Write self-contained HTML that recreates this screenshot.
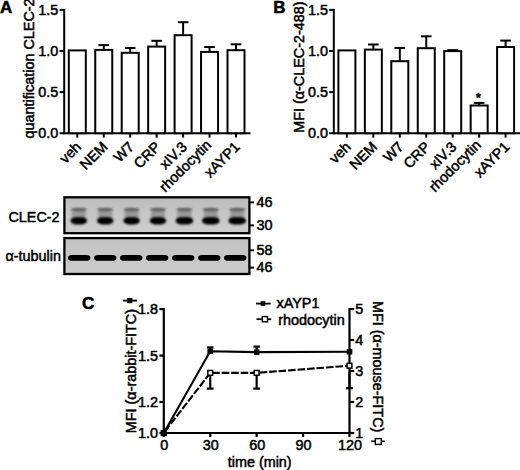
<!DOCTYPE html>
<html><head><meta charset="utf-8"><style>
html,body{margin:0;padding:0;background:#fff;width:520px;height:470px;overflow:hidden}
svg{display:block}
text{font-family:"Liberation Sans", sans-serif;fill:#000;stroke:#000;stroke-width:0.5px}
.t{font-size:14.4px}
.xl{font-size:14.4px}
.pl{font-size:17px;font-weight:bold}
</style></head><body>
<svg width="520" height="470" viewBox="0 0 520 470">
<rect width="520" height="470" fill="#fff"/>
<g stroke="#000" stroke-width="2" fill="none">
<line x1="64.2" y1="8.9" x2="64.2" y2="134.2" />
<line x1="59.6" y1="9.9" x2="64.2" y2="9.9" />
<text x="58.3" y="14.9" text-anchor="end" class="t">1.5</text>
<line x1="59.6" y1="51" x2="64.2" y2="51" />
<text x="58.3" y="56" text-anchor="end" class="t">1.0</text>
<line x1="59.6" y1="92.1" x2="64.2" y2="92.1" />
<text x="58.3" y="97.1" text-anchor="end" class="t">0.5</text>
<line x1="59.6" y1="133.2" x2="64.2" y2="133.2" />
<text x="58.3" y="138.2" text-anchor="end" class="t">0.0</text>
<line x1="63.2" y1="133.2" x2="250.5" y2="133.2" />
<line x1="77.3" y1="133.2" x2="77.3" y2="137.6" />
<rect x="68.8" y="50.4" width="17" height="82.8" fill="#fff" />
<text x="82.0" y="147.8" text-anchor="end" class="xl" transform="rotate(-45 82.0 147.8)">veh</text>
<line x1="103.75" y1="133.2" x2="103.75" y2="137.6" />
<line x1="103.75" y1="45.1" x2="103.75" y2="49.9" />
<line x1="98.45" y1="45.1" x2="109.05" y2="45.1" />
<rect x="95.25" y="49.9" width="17" height="83.3" fill="#fff" />
<text x="108.45" y="147.8" text-anchor="end" class="xl" transform="rotate(-45 108.45 147.8)">NEM</text>
<line x1="130.2" y1="133.2" x2="130.2" y2="137.6" />
<line x1="130.2" y1="48.0" x2="130.2" y2="52.8" />
<line x1="124.9" y1="48.0" x2="135.5" y2="48.0" />
<rect x="121.7" y="52.8" width="17" height="80.4" fill="#fff" />
<text x="134.9" y="147.8" text-anchor="end" class="xl" transform="rotate(-45 134.9 147.8)">W7</text>
<line x1="156.65" y1="133.2" x2="156.65" y2="137.6" />
<line x1="156.65" y1="40.8" x2="156.65" y2="46.6" />
<line x1="151.35" y1="40.8" x2="161.95" y2="40.8" />
<rect x="148.15" y="46.6" width="17" height="86.6" fill="#fff" />
<text x="161.35" y="147.8" text-anchor="end" class="xl" transform="rotate(-45 161.35 147.8)">CRP</text>
<line x1="183.1" y1="133.2" x2="183.1" y2="137.6" />
<line x1="183.1" y1="22.2" x2="183.1" y2="35.2" />
<line x1="177.8" y1="22.2" x2="188.4" y2="22.2" />
<rect x="174.6" y="35.2" width="17" height="98" fill="#fff" />
<text x="187.8" y="147.8" text-anchor="end" class="xl" transform="rotate(-45 187.8 147.8)">xIV.3</text>
<line x1="209.55" y1="133.2" x2="209.55" y2="137.6" />
<line x1="209.55" y1="47.0" x2="209.55" y2="51.9" />
<line x1="204.25" y1="47.0" x2="214.85" y2="47.0" />
<rect x="201.05" y="51.9" width="17" height="81.3" fill="#fff" />
<text x="212.25" y="145.8" text-anchor="end" class="xl" transform="rotate(-45 212.25 145.8)">rhodocytin</text>
<line x1="236.0" y1="133.2" x2="236.0" y2="137.6" />
<line x1="236.0" y1="44.3" x2="236.0" y2="50.2" />
<line x1="230.7" y1="44.3" x2="241.3" y2="44.3" />
<rect x="227.5" y="50.2" width="17" height="83" fill="#fff" />
<text x="240.7" y="147.8" text-anchor="end" class="xl" transform="rotate(-45 240.7 147.8)">xAYP1</text>
<text x="34.3" y="138.4" class="t" transform="rotate(-90 34.3 138.4)">quantification CLEC-2</text>
<text x="0" y="13.4" class="pl">A</text>
<line x1="333.8" y1="8.9" x2="333.8" y2="134.2" />
<line x1="329.2" y1="9.9" x2="333.8" y2="9.9" />
<text x="327.9" y="14.9" text-anchor="end" class="t">1.5</text>
<line x1="329.2" y1="51" x2="333.8" y2="51" />
<text x="327.9" y="56" text-anchor="end" class="t">1.0</text>
<line x1="329.2" y1="92.1" x2="333.8" y2="92.1" />
<text x="327.9" y="97.1" text-anchor="end" class="t">0.5</text>
<line x1="329.2" y1="133.2" x2="333.8" y2="133.2" />
<text x="327.9" y="138.2" text-anchor="end" class="t">0.0</text>
<line x1="332.8" y1="133.2" x2="520.1" y2="133.2" />
<line x1="346.9" y1="133.2" x2="346.9" y2="137.6" />
<rect x="338.4" y="50.4" width="17" height="82.8" fill="#fff" />
<text x="351.6" y="147.8" text-anchor="end" class="xl" transform="rotate(-45 351.6 147.8)">veh</text>
<line x1="373.35" y1="133.2" x2="373.35" y2="137.6" />
<line x1="373.35" y1="44.5" x2="373.35" y2="49.6" />
<line x1="368.05" y1="44.5" x2="378.65" y2="44.5" />
<rect x="364.85" y="49.6" width="17" height="83.6" fill="#fff" />
<text x="378.05" y="147.8" text-anchor="end" class="xl" transform="rotate(-45 378.05 147.8)">NEM</text>
<line x1="399.8" y1="133.2" x2="399.8" y2="137.6" />
<line x1="399.8" y1="48.0" x2="399.8" y2="61.2" />
<line x1="394.5" y1="48.0" x2="405.1" y2="48.0" />
<rect x="391.3" y="61.2" width="17" height="72" fill="#fff" />
<text x="404.5" y="147.8" text-anchor="end" class="xl" transform="rotate(-45 404.5 147.8)">W7</text>
<line x1="426.25" y1="133.2" x2="426.25" y2="137.6" />
<line x1="426.25" y1="36.3" x2="426.25" y2="48.2" />
<line x1="420.95" y1="36.3" x2="431.55" y2="36.3" />
<rect x="417.75" y="48.2" width="17" height="85" fill="#fff" />
<text x="430.95" y="147.8" text-anchor="end" class="xl" transform="rotate(-45 430.95 147.8)">CRP</text>
<line x1="452.7" y1="133.2" x2="452.7" y2="137.6" />
<line x1="452.7" y1="50.1" x2="452.7" y2="51.1" />
<line x1="447.4" y1="50.1" x2="458" y2="50.1" />
<rect x="444.2" y="51.1" width="17" height="82.1" fill="#fff" />
<text x="457.4" y="147.8" text-anchor="end" class="xl" transform="rotate(-45 457.4 147.8)">xIV.3</text>
<line x1="479.15" y1="133.2" x2="479.15" y2="137.6" />
<line x1="479.15" y1="102.9" x2="479.15" y2="105.5" />
<line x1="473.85" y1="102.9" x2="484.45" y2="102.9" />
<rect x="470.65" y="105.5" width="17" height="27.7" fill="#fff" />
<text x="481.85" y="145.8" text-anchor="end" class="xl" transform="rotate(-45 481.85 145.8)">rhodocytin</text>
<line x1="505.6" y1="133.2" x2="505.6" y2="137.6" />
<line x1="505.6" y1="40.6" x2="505.6" y2="47.0" />
<line x1="500.3" y1="40.6" x2="510.9" y2="40.6" />
<rect x="497.1" y="47.0" width="17" height="86.2" fill="#fff" />
<text x="510.3" y="147.8" text-anchor="end" class="xl" transform="rotate(-45 510.3 147.8)">xAYP1</text>
<text x="303.9" y="132.8" class="t" transform="rotate(-90 303.9 132.8)">MFI (α-CLEC-2-488)</text>
<text x="273.3" y="13.4" class="pl">B</text>
</g>
<text x="478.3" y="101.5" text-anchor="middle" class="t" style="font-size:12px;font-weight:bold">*</text>
<defs><linearGradient id="bg1" x1="0" y1="0" x2="0" y2="1"><stop offset="0" stop-color="#bcbcbc"/><stop offset="0.5" stop-color="#c7c7c7"/><stop offset="1" stop-color="#cdcdcd"/></linearGradient><linearGradient id="bg2" x1="0" y1="0" x2="0" y2="1"><stop offset="0" stop-color="#c3c3c3"/><stop offset="1" stop-color="#cccccc"/></linearGradient><filter id="bl0" x="-30%" y="-60%" width="160%" height="220%"><feGaussianBlur stdDeviation="0.6"/></filter><filter id="bl1" x="-30%" y="-60%" width="160%" height="220%"><feGaussianBlur stdDeviation="0.8"/></filter><filter id="bl2" x="-30%" y="-80%" width="160%" height="260%"><feGaussianBlur stdDeviation="1.3"/></filter></defs><rect x="64.4" y="197.3" width="185" height="35.9" fill="url(#bg1)"/><rect x="64.4" y="238.1" width="185" height="35.9" fill="url(#bg2)"/><rect x="71.8" y="210.4" width="14" height="6.8" fill="#9a9a9a" filter="url(#bl1)"/><ellipse cx="78.8" cy="209.6" rx="8" ry="1.9" fill="#5e5e5e" filter="url(#bl1)"/><rect x="70.6" y="216.9" width="16.4" height="7.5" rx="5.5" ry="3.75" fill="#000" filter="url(#bl1)"/><rect x="68.0" y="255.1" width="22.4" height="5.6" rx="4" ry="2.8" fill="#000" filter="url(#bl0)"/><rect x="98.2" y="210.4" width="14" height="6.8" fill="#9a9a9a" filter="url(#bl1)"/><ellipse cx="105.2" cy="209.6" rx="8" ry="1.9" fill="#5e5e5e" filter="url(#bl1)"/><rect x="97" y="216.9" width="16.4" height="7.5" rx="5.5" ry="3.75" fill="#000" filter="url(#bl1)"/><rect x="94.0" y="255.1" width="22.4" height="5.6" rx="4" ry="2.8" fill="#000" filter="url(#bl0)"/><rect x="124.6" y="210.4" width="14" height="6.8" fill="#9a9a9a" filter="url(#bl1)"/><ellipse cx="131.6" cy="209.6" rx="8" ry="1.9" fill="#5e5e5e" filter="url(#bl1)"/><rect x="123.4" y="216.9" width="16.4" height="7.5" rx="5.5" ry="3.75" fill="#000" filter="url(#bl1)"/><rect x="120" y="255.1" width="22.4" height="5.6" rx="4" ry="2.8" fill="#000" filter="url(#bl0)"/><rect x="151.0" y="210.4" width="14" height="6.8" fill="#9a9a9a" filter="url(#bl1)"/><ellipse cx="158.0" cy="209.6" rx="8" ry="1.9" fill="#5e5e5e" filter="url(#bl1)"/><rect x="149.8" y="216.9" width="16.4" height="7.5" rx="5.5" ry="3.75" fill="#000" filter="url(#bl1)"/><rect x="146.0" y="255.1" width="22.4" height="5.6" rx="4" ry="2.8" fill="#000" filter="url(#bl0)"/><rect x="177.4" y="210.4" width="14" height="6.8" fill="#9a9a9a" filter="url(#bl1)"/><ellipse cx="184.4" cy="209.6" rx="8" ry="1.9" fill="#5e5e5e" filter="url(#bl1)"/><rect x="175.6" y="216.9" width="17.6" height="7.5" rx="5.5" ry="3.75" fill="#000" filter="url(#bl1)"/><rect x="172.0" y="255.1" width="22.4" height="5.6" rx="4" ry="2.8" fill="#000" filter="url(#bl0)"/><rect x="203.8" y="210.4" width="14" height="6.8" fill="#9a9a9a" filter="url(#bl1)"/><ellipse cx="210.8" cy="209.6" rx="8" ry="1.9" fill="#5e5e5e" filter="url(#bl1)"/><rect x="202.0" y="216.9" width="17.6" height="7.5" rx="5.5" ry="3.75" fill="#000" filter="url(#bl1)"/><rect x="198.0" y="255.1" width="22.4" height="5.6" rx="4" ry="2.8" fill="#000" filter="url(#bl0)"/><rect x="230.2" y="210.4" width="14" height="6.8" fill="#9a9a9a" filter="url(#bl1)"/><ellipse cx="237.2" cy="209.6" rx="8" ry="1.9" fill="#5e5e5e" filter="url(#bl1)"/><rect x="228.4" y="216.9" width="17.6" height="7.5" rx="5.5" ry="3.75" fill="#000" filter="url(#bl1)"/><rect x="224.0" y="255.1" width="22.4" height="5.6" rx="4" ry="2.8" fill="#000" filter="url(#bl0)"/><g stroke="#000" stroke-width="2.3" fill="none"><rect x="64.4" y="197.3" width="185" height="35.9"/><rect x="64.4" y="238.1" width="185" height="35.9"/></g><g stroke="#000" stroke-width="2" fill="none"><line x1="249.5" y1="202.4" x2="254" y2="202.4"/><line x1="249.5" y1="225.4" x2="254" y2="225.4"/><line x1="249.5" y1="250.3" x2="254" y2="250.3"/><line x1="249.5" y1="267.6" x2="254" y2="267.6"/></g><text x="256.4" y="206.7" class="t">46</text><text x="256.4" y="229.7" class="t">30</text><text x="256.4" y="254.6" class="t">58</text><text x="256.4" y="271.9" class="t">46</text><text x="59.6" y="221.6" text-anchor="end" class="t">CLEC-2</text><text x="61" y="261" text-anchor="end" class="t">α-tubulin</text>
<g stroke="#000" stroke-width="2.2" fill="none"><line x1="163.8" y1="308.08" x2="163.8" y2="434"/><line x1="159.4" y1="309.08" x2="163.8" y2="309.08"/><line x1="159.4" y1="355.55" x2="163.8" y2="355.55"/><line x1="159.4" y1="402.02" x2="163.8" y2="402.02"/><line x1="159.4" y1="433.0" x2="163.8" y2="433.0"/><line x1="349.5" y1="308" x2="349.5" y2="434"/><line x1="349.5" y1="309" x2="354.2" y2="309"/><line x1="349.5" y1="340" x2="354.2" y2="340"/><line x1="349.5" y1="371" x2="354.2" y2="371"/><line x1="349.5" y1="402" x2="354.2" y2="402"/><line x1="349.5" y1="433" x2="354.2" y2="433"/><line x1="162.8" y1="433" x2="350.5" y2="433"/><line x1="163.8" y1="433" x2="163.8" y2="437"/><line x1="210.23" y1="433" x2="210.23" y2="437"/><line x1="256.65" y1="433" x2="256.65" y2="437"/><line x1="303.08" y1="433" x2="303.08" y2="437"/><line x1="349.5" y1="433" x2="349.5" y2="437"/><polyline points="163.8,433.0 210.23,351.21 256.65,352.14 349.5,351.68" stroke-width="2.1"/><polyline points="163.8,433.0 210.23,372.86 256.65,372.86 349.5,365.73" stroke-width="2.1" stroke-dasharray="7.6 1.9" stroke-dashoffset="-1.9"/><line x1="210.23" y1="347.4" x2="210.23" y2="351"/><line x1="207.03" y1="347.4" x2="213.43" y2="347.4"/><line x1="256.65" y1="346.6" x2="256.65" y2="351"/><line x1="253.45" y1="346.6" x2="259.85" y2="346.6"/><line x1="210.23" y1="372" x2="210.23" y2="388.6"/><line x1="206.83" y1="388.6" x2="213.63" y2="388.6"/><line x1="256.65" y1="372" x2="256.65" y2="388.6"/><line x1="253.25" y1="388.6" x2="260.05" y2="388.6"/><line x1="349.5" y1="372" x2="349.5" y2="388.2"/><line x1="346.1" y1="388.2" x2="352.9" y2="388.2"/></g><rect x="161.4" y="430.6" width="4.8" height="4.8" fill="#fff" stroke="#000" stroke-width="1.5"/><rect x="207.83" y="370.46" width="4.8" height="4.8" fill="#fff" stroke="#000" stroke-width="1.5"/><rect x="254.25" y="370.46" width="4.8" height="4.8" fill="#fff" stroke="#000" stroke-width="1.5"/><rect x="347.1" y="363.33" width="4.8" height="4.8" fill="#fff" stroke="#000" stroke-width="1.5"/><rect x="161.0" y="430.2" width="5.6" height="5.6" fill="#000"/><rect x="207.43" y="348.41" width="5.6" height="5.6" fill="#000"/><rect x="253.85" y="349.34" width="5.6" height="5.6" fill="#000"/><rect x="346.7" y="348.88" width="5.6" height="5.6" fill="#000"/><text x="158" y="314.08" text-anchor="end" class="t">1.8</text><text x="158" y="360.55" text-anchor="end" class="t">1.5</text><text x="158" y="407.02" text-anchor="end" class="t">1.2</text><text x="158" y="438.0" text-anchor="end" class="t">1.0</text><text x="355.2" y="314" class="t">5</text><text x="355.2" y="345" class="t">4</text><text x="355.2" y="376" class="t">3</text><text x="355.2" y="407" class="t">2</text><text x="355.2" y="438" class="t">1</text><text x="164.3" y="450.1" text-anchor="middle" class="t">0</text><text x="210.73" y="450.1" text-anchor="middle" class="t">30</text><text x="257.15" y="450.1" text-anchor="middle" class="t">60</text><text x="303.58" y="450.1" text-anchor="middle" class="t">90</text><text x="350.0" y="450.1" text-anchor="middle" class="t">120</text><text x="259.7" y="467.2" text-anchor="middle" class="t">time (min)</text><text x="135.6" y="433.2" class="t" transform="rotate(-90 135.6 433.2)">MFI (α-rabbit-FITC)</text><text x="372.9" y="300.9" class="t" transform="rotate(90 372.9 300.9)">MFI (α-mouse-FITC)</text><g stroke="#000" stroke-width="1.8"><line x1="123" y1="300.6" x2="137" y2="300.6"/></g><rect x="127.2" y="298" width="5.2" height="5.2" fill="#000"/><g stroke="#000" stroke-width="1.6"><line x1="371.2" y1="441.3" x2="385" y2="441.3"/></g><rect x="375.3" y="438.6" width="6" height="5.8" fill="#fff" stroke="#000" stroke-width="1.4"/><g stroke="#000" stroke-width="1.8"><line x1="256" y1="303.6" x2="270.7" y2="303.6"/><line x1="256.5" y1="319.2" x2="271.2" y2="319.2"/></g><rect x="260.6" y="301.2" width="4.6" height="4.6" fill="#000"/><rect x="262.3" y="316.6" width="5.2" height="5.2" fill="#fff" stroke="#000" stroke-width="1.4"/><text x="276.5" y="308.4" class="t">xAYP1</text><text x="278.3" y="324.8" class="t">rhodocytin</text><text x="82" y="308.5" class="pl">C</text>
</svg></body></html>
